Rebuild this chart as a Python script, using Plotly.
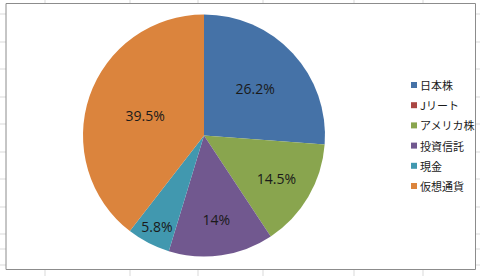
import plotly.graph_objects as go

categories = ["日本株", "Jリート", "アメリカ株", "投資信託", "現金", "仮想通貨"]
values = [26.2, 0, 14.5, 14, 5.8, 39.5]
colors = ["#4572A7", "#AA4643", "#89A54E", "#71588F", "#4198AF", "#DB843D"]
labels_txt = [f"{v:g}%" if v > 0 else "" for v in values]

# spreadsheet background cell grid (pixels)
grid_x = [45, 130, 198, 263, 354, 423]
grid_y = [14, 42, 69, 97, 124, 152, 179, 207, 234, 249, 265]

W, H = 480, 276
fig = go.Figure()
fig.add_trace(go.Pie(
    labels=categories, values=values, marker=dict(colors=colors, line=dict(width=0)),
    sort=False, direction="clockwise", rotation=0,
    text=labels_txt, textinfo="text", textposition="inside",
    insidetextorientation="horizontal",
    textfont=dict(family="Open Sans", size=14, color="#1a1a1a"),
    domain=dict(x=[83 / W, 325 / W], y=[(H - 256.5) / H, (H - 14.5) / H]),
    showlegend=False, hoverinfo="skip",
))

shapes = []
for gx in grid_x:
    shapes.append(dict(type="line", xref="paper", yref="paper", x0=gx / W, x1=gx / W, y0=0, y1=1,
                       line=dict(color="#D9D9D9", width=1), layer="below"))
for gy in grid_y:
    shapes.append(dict(type="line", xref="paper", yref="paper", x0=0, x1=1, y0=1 - gy / H, y1=1 - gy / H,
                       line=dict(color="#D9D9D9", width=1), layer="below"))
shapes.append(dict(type="rect", xref="paper", yref="paper", x0=6 / W, x1=475.5 / W, y0=1 - 269.5 / H, y1=1 - 3.5 / H,
                   fillcolor="white", line=dict(color="#8C8C8C", width=1), layer="below"))

annotations = []
leg_x, leg_y0, leg_step = 411, 85, 20.2
for i, (c, col) in enumerate(zip(categories, colors)):
    yc = leg_y0 + i * leg_step
    shapes.append(dict(type="rect", xref="paper", yref="paper",
                       x0=leg_x / W, x1=(leg_x + 6) / W, y0=1 - (yc + 3) / H, y1=1 - (yc - 3) / H,
                       fillcolor=col, line=dict(width=0)))
    annotations.append(dict(xref="paper", yref="paper", x=(leg_x + 7) / W, y=1 - yc / H,
                            xanchor="left", yanchor="middle", showarrow=False, text=c,
                            font=dict(family="Noto Sans CJK JP", size=11, color="#1a1a1a")))

fig.update_layout(
    width=W, height=H, margin=dict(l=0, r=0, t=0, b=0),
    paper_bgcolor="white", plot_bgcolor="white",
    shapes=shapes, annotations=annotations,
)
fig.write_html("out.html")
